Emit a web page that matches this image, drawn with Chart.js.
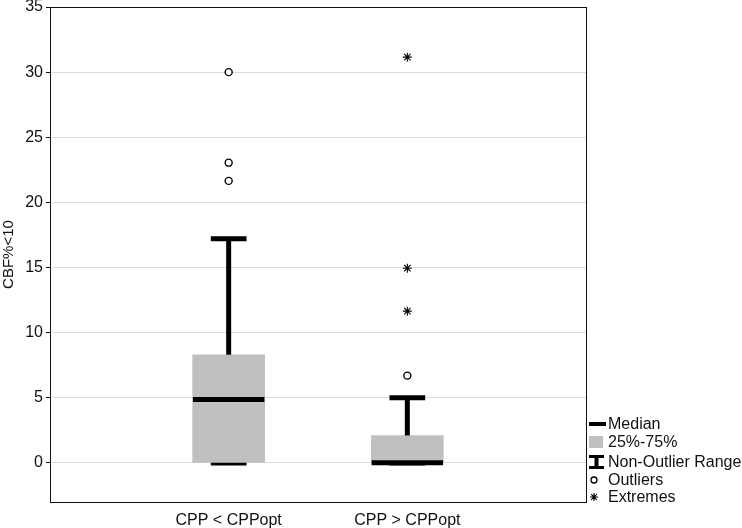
<!DOCTYPE html>
<html>
<head>
<meta charset="utf-8">
<script src="https://cdn.jsdelivr.net/npm/chart.js@4.4.1/dist/chart.umd.min.js"></script>
<style>
  html, body { margin: 0; padding: 0; background: #fff; }
  #wrap { width: 742px; height: 528px; position: relative; }
</style>
</head>
<body>
<div id="wrap"><canvas id="c" width="742" height="528"></canvas></div>
<script>
// ---- data ----
const categories   = ['CPP < CPPopt', 'CPP > CPPopt'];
const q1           = [0, 0];
const q3           = [8.3, 2.1];
const medians      = [4.87, 0.02];
const whiskerLow   = [0, 0];
const whiskerHigh  = [17.2, 5.0];
const outliers     = [[30.0, 23.05, 21.65], [6.7]];
const extremes     = [[], [31.15, 14.95, 11.65]];
const yTickValues  = [0, 5, 10, 15, 20, 25, 30, 35];
const yAxisTitle   = 'CBF%<10';
const legendLabels = ['Median', '25%-75%', 'Non-Outlier Range', 'Outliers', 'Extremes'];

// ---- build datasets ----
const FONT = "'Liberation Sans', Arial, Helvetica, sans-serif";
const BOX_HALF = 0.2, CAP_HALF = 0.1;
const pos = categories.map((_, i) => i + 1);

const upperWhisker = [], lowerWhisker = [], medianPts = [];
pos.forEach((x, i) => {
  upperWhisker.push({x: x, y: q3[i]}, {x: x, y: whiskerHigh[i]}, {x: x, y: null},
                    {x: x - CAP_HALF, y: whiskerHigh[i]}, {x: x + CAP_HALF, y: whiskerHigh[i]}, {x: x, y: null});
  lowerWhisker.push({x: x, y: whiskerLow[i]}, {x: x, y: q1[i]}, {x: x, y: null},
                    {x: x - CAP_HALF, y: whiskerLow[i]}, {x: x + CAP_HALF, y: whiskerLow[i]}, {x: x, y: null});
  medianPts.push({x: x - BOX_HALF, y: medians[i]}, {x: x + BOX_HALF, y: medians[i]}, {x: x, y: null});
});
const outlierPts = [], extremePts = [];
pos.forEach((x, i) => {
  outliers[i].forEach(v => outlierPts.push({x: x, y: v}));
  extremes[i].forEach(v => extremePts.push({x: x, y: v}));
});

const lineDs = (data, order) => ({
  type: 'line', data, order, showLine: true, spanGaps: false,
  borderColor: '#000', borderWidth: 5, borderCapStyle: 'butt',
  pointRadius: 0, pointHoverRadius: 0, fill: false, tension: 0
});

const datasets = [
  lineDs(lowerWhisker, 6),
  {
    type: 'bar', order: 5,
    data: pos.map((x, i) => ({x: x, y: [q1[i], q3[i]]})),
    backgroundColor: '#c0c0c0', borderWidth: 0, barThickness: 72
  },
  lineDs(upperWhisker, 4),
  lineDs(medianPts, 3),
  {
    type: 'scatter', order: 2, data: outlierPts,
    pointStyle: 'circle', pointRadius: 3.5, borderWidth: 1.4,
    borderColor: '#000', backgroundColor: '#fff'
  },
  {
    type: 'scatter', order: 1, data: extremePts,
    pointStyle: 'star', pointRadius: 4.5, borderWidth: 1.1,
    borderColor: '#000', backgroundColor: '#000'
  }
];

// frame + legend plugin
const framePlugin = {
  id: 'frame',
  afterDraw(chart) {
    const {ctx, chartArea: a} = chart;
    ctx.save();
    ctx.strokeStyle = '#111';
    ctx.lineWidth = 1;
    ctx.strokeRect(Math.round(a.left) + 0.5, Math.round(a.top) + 0.5,
                   Math.round(a.right - a.left), Math.round(a.bottom - a.top));

    // legend
    const lx = a.right + 3;
    const rows = [424, 442, 462, 480, 497];
    ctx.fillStyle = '#000';
    ctx.font = '16px ' + FONT;
    ctx.textBaseline = 'middle';
    ctx.textAlign = 'left';
    ctx.fillRect(lx, rows[0] - 2, 17, 4);
    ctx.fillStyle = '#c0c0c0';
    ctx.fillRect(lx, rows[1] - 6, 14, 12);
    ctx.fillStyle = '#000';
    ctx.fillRect(lx, rows[2] - 7, 15, 3);
    ctx.fillRect(lx, rows[2] + 4, 15, 3);
    ctx.fillRect(lx + 5.5, rows[2] - 7, 4, 14);
    ctx.lineWidth = 1.3;
    ctx.strokeStyle = '#000';
    ctx.beginPath(); ctx.arc(lx + 5, rows[3], 3, 0, Math.PI * 2); ctx.stroke();
    const sx = lx + 5, sy = rows[4], r = 4;
    ctx.lineWidth = 1.1;
    ctx.beginPath();
    for (let k = 0; k < 4; k++) {
      const ang = k * Math.PI / 4;
      ctx.moveTo(sx - r * Math.cos(ang), sy - r * Math.sin(ang));
      ctx.lineTo(sx + r * Math.cos(ang), sy + r * Math.sin(ang));
    }
    ctx.stroke();
    ctx.fillStyle = '#111';
    legendLabels.forEach((t, k) => ctx.fillText(t, lx + 19, rows[k] + 1));
    ctx.restore();
  }
};

new Chart(document.getElementById('c'), {
  type: 'scatter',
  data: { datasets },
  options: {
    responsive: false,
    animation: false,
    devicePixelRatio: 1,
    layout: { padding: { top: 7, right: 156, left: 0, bottom: 0 } },
    plugins: { legend: { display: false }, tooltip: { enabled: false } },
    scales: {
      x: {
        type: 'linear', min: 0, max: 3, offset: false, bounds: 'ticks',
        afterBuildTicks: s => { s.ticks = pos.map(v => ({value: v})); },
        afterFit: s => { s.height = 26; s.paddingLeft = 0; s.paddingRight = 0; },
        grid: { display: false, drawTicks: false, offset: false },
        border: { display: false },
        ticks: {
          padding: 9, color: '#111',
          font: { family: FONT, size: 16 },
          callback: v => categories[v - 1] || ''
        }
      },
      y: {
        type: 'linear', min: -3, max: 35,
        afterBuildTicks: s => { s.ticks = yTickValues.map(v => ({value: v})); },
        afterFit: s => { s.width = 50; s.paddingTop = 0; s.paddingBottom = 0; },
        grid: { color: '#dcdcdc', lineWidth: 1, tickColor: '#111', tickLength: 4, drawTicks: true },
        border: { display: false },
        ticks: { padding: 3, color: '#111', font: { family: FONT, size: 16 } },
        title: {
          display: true, text: yAxisTitle, color: '#111',
          font: { family: FONT, size: 15 }, padding: 0
        }
      }
    }
  },
  plugins: [framePlugin]
});
</script>
</body>
</html>
